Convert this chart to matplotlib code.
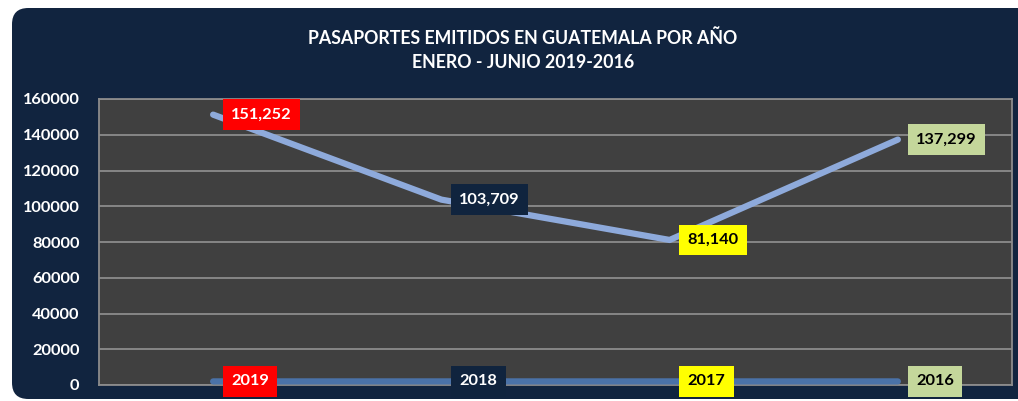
import matplotlib.pyplot as plt
from matplotlib.patches import FancyBboxPatch, Rectangle

plt.rcParams['font.family'] = ['Lato', 'DejaVu Sans']

years = ['2019', '2018', '2017', '2016']
pasaportes = [151252, 103709, 81140, 137299]
year_values = [2019, 2018, 2017, 2016]
label_colors = ['#ff0000', '#10243e', '#ffff00', '#c4d79b']
label_text_colors = ['white', 'white', 'black', 'black']

navy = '#11243f'

fig = plt.figure(figsize=(10.18, 4.01), dpi=100)
fig.patch.set_facecolor('white')

# dark panel: rounded on the left, square where it runs off the right edge
panel_bottom = 2 / 401
panel_height = 1 - 10 / 401
fig.patches.append(FancyBboxPatch((12 / 1018, panel_bottom), 0.5, panel_height,
                                  boxstyle='round,pad=0,rounding_size=0.016',
                                  transform=fig.transFigure, facecolor=navy,
                                  edgecolor='none', zorder=-5,
                                  mutation_aspect=1018 / 401))
fig.patches.append(Rectangle((0.4, panel_bottom), 0.7, panel_height,
                             transform=fig.transFigure, facecolor=navy,
                             edgecolor='none', zorder=-5))

ax = fig.add_axes([99 / 1018, 1 - 385 / 401, (1012 - 99) / 1018, (385 - 99) / 401])
ax.set_facecolor('#404040')

x = range(len(years))
ax.plot(x, pasaportes, color='#8eaadb', lw=4.5, solid_capstyle='round',
        solid_joinstyle='round', zorder=3)
ax.plot(x, year_values, color='#4a72a8', lw=4.5, solid_capstyle='round', zorder=3)

ax.set_xlim(-0.5, len(years) - 0.5)
ax.set_ylim(0, 160000)
ax.set_yticks(range(0, 160001, 20000))
ax.set_yticklabels([str(v) for v in range(0, 160001, 20000)])
ax.set_xticks([])
ax.yaxis.grid(True, color='#8c8c8c', lw=1.3)
ax.set_axisbelow(True)
ax.tick_params(axis='y', length=0, pad=14, labelsize=11.8, labelcolor='white')
for lbl in ax.get_yticklabels():
    lbl.set_fontweight('bold')
for s in ax.spines.values():
    s.set_color('#8c8c8c')
    s.set_linewidth(1.3)

for i in x:
    ax.annotate(f'{pasaportes[i]:,}', (i, pasaportes[i]), xytext=(13, 0),
                textcoords='offset points', ha='left', va='center',
                fontsize=11.8, fontweight='bold', color=label_text_colors[i],
                bbox=dict(boxstyle='square,pad=0.5', fc=label_colors[i], ec='none'),
                zorder=5)
    ax.annotate(years[i], (i, year_values[i]), xytext=(13, 0),
                textcoords='offset points', ha='left', va='center',
                fontsize=11.8, fontweight='bold', color=label_text_colors[i],
                bbox=dict(boxstyle='square,pad=0.5', fc=label_colors[i], ec='none'),
                zorder=5, annotation_clip=False)

fig.text(523 / 1018, 1 - 38 / 401, 'PASAPORTES EMITIDOS EN GUATEMALA POR AÑO',
         ha='center', va='center', fontsize=12.8, fontweight='bold', color='white')
fig.text(523 / 1018, 1 - 62 / 401, 'ENERO - JUNIO 2019-2016',
         ha='center', va='center', fontsize=12.8, fontweight='bold', color='white')

fig.savefig('out.png', dpi=100, facecolor=fig.get_facecolor())
